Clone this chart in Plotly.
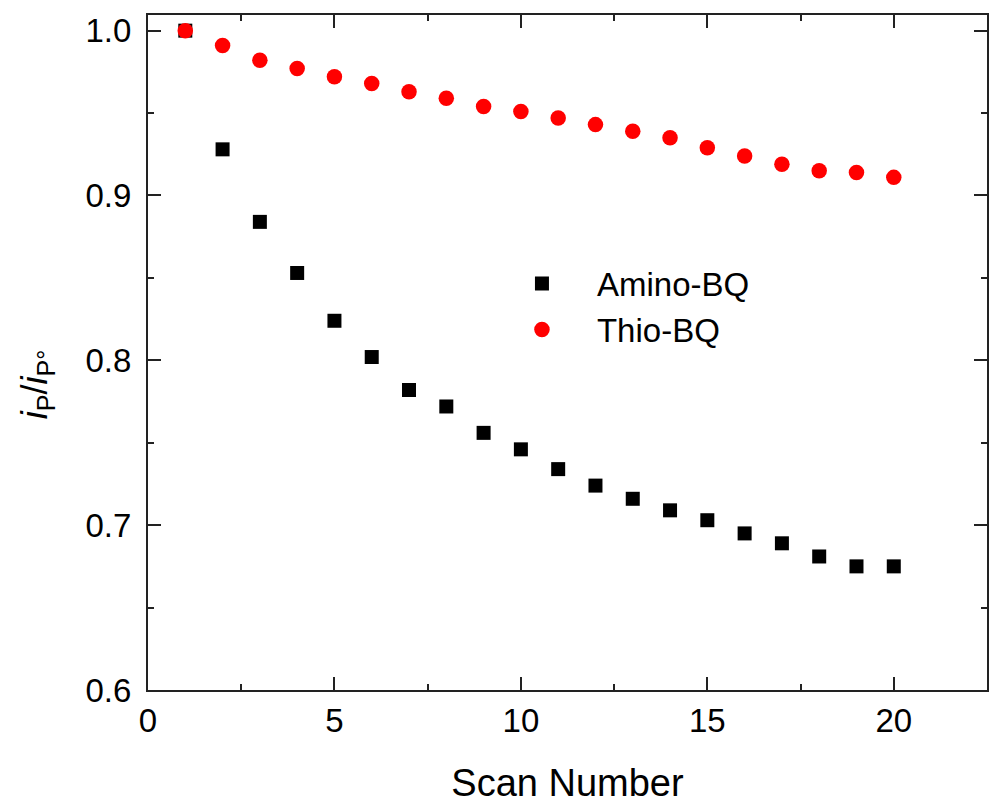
import plotly.graph_objects as go

# Normalised peak current i_p / i_p0 over successive scans
scan = list(range(1, 21))
amino_bq = [1.000, 0.928, 0.884, 0.853, 0.824, 0.802, 0.782, 0.772, 0.756, 0.746,
            0.734, 0.724, 0.716, 0.709, 0.703, 0.695, 0.689, 0.681, 0.675, 0.675]
thio_bq = [1.000, 0.991, 0.982, 0.977, 0.972, 0.968, 0.963, 0.959, 0.954, 0.951,
           0.947, 0.943, 0.939, 0.935, 0.929, 0.924, 0.919, 0.915, 0.914, 0.911]

x_ticks = [0, 5, 10, 15, 20]
y_ticks = [0.6, 0.7, 0.8, 0.9, 1.0]
y_tick_text = ["0.6", "0.7", "0.8", "0.9", "1.0"]

FONT = "Liberation Sans, Arial, sans-serif"

W, H = 990, 805
M_L, M_R, M_T, M_B = 148, 1, 15, 115

fig = go.Figure()
fig.add_trace(go.Scatter(
    x=scan, y=amino_bq, mode="markers", name="Amino-BQ",
    marker=dict(symbol="square", size=14, color="black", line=dict(width=0)),
))
fig.add_trace(go.Scatter(
    x=scan, y=thio_bq, mode="markers", name="Thio-BQ",
    marker=dict(symbol="circle", size=15.5, color="#ff0000", line=dict(width=0)),
))

axis_common = dict(
    showline=True, linecolor="#222", linewidth=2, mirror="allticks",
    ticks="inside", ticklen=13, tickwidth=2, tickcolor="#222",
    showgrid=False, zeroline=False,
    tickfont=dict(family=FONT, size=33, color="black"),
)

fig.update_xaxes(
    range=[0, 22.5], tickvals=x_ticks,
    minor=dict(dtick=2.5, ticklen=6, tickwidth=2, tickcolor="#222", ticks="inside"),
    title=dict(text="Scan Number", font=dict(family=FONT, size=38, color="black"), standoff=32),
    **axis_common,
)
fig.update_yaxes(
    range=[0.6, 1.0095], tickvals=y_ticks, ticktext=y_tick_text,
    minor=dict(dtick=0.05, ticklen=6, tickwidth=2, tickcolor="#222", ticks="inside"),
    ticklabelstandoff=8,
    **axis_common,
)

# y-axis title placed as a rotated annotation
plot_w = W - M_L - M_R
plot_h = H - M_T - M_B
fig.add_annotation(
    text="<i>i</i><sub>P</sub>/<i>i</i><sub>P°</sub>",
    xref="paper", yref="paper",
    x=(37 - M_L) / plot_w, y=1 - (384 - M_T) / plot_h,
    xanchor="center", yanchor="middle", textangle=-90, showarrow=False,
    font=dict(family=FONT, size=36, color="black"),
)

fig.update_layout(
    width=W, height=H,
    margin=dict(l=M_L, r=M_R, t=M_T, b=M_B),
    plot_bgcolor="white", paper_bgcolor="white",
    legend=dict(
        x=0.404, y=0.568, xanchor="left", yanchor="middle",
        font=dict(family=FONT, size=33, color="black"),
        bgcolor="rgba(0,0,0,0)", itemwidth=100,
        traceorder="normal",
    ),
)

fig.write_html("out.html")
